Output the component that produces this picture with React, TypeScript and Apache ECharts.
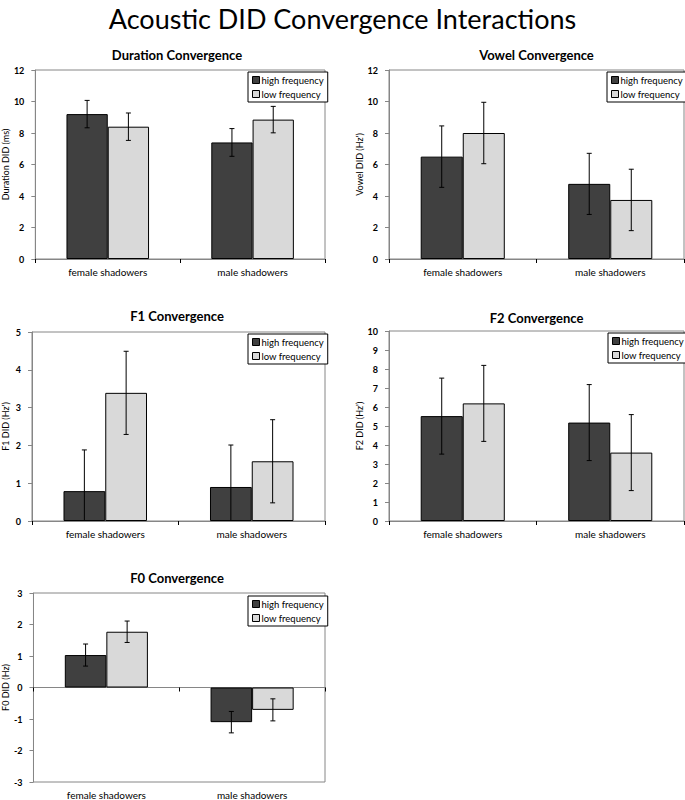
import React, { useEffect, useRef } from "react";
import * as echarts from "echarts";

const categories = ["female shadowers", "male shadowers"];
const seriesNames = ["high frequency", "low frequency"];

const durationHigh = [9.2, 7.4];
const durationLow = [8.4, 8.85];
const durationHighErr = [0.87, 0.88];
const durationLowErr = [0.87, 0.84];

const vowelHigh = [6.5, 4.77];
const vowelLow = [8.0, 3.75];
const vowelHighErr = [1.95, 1.94];
const vowelLowErr = [1.95, 1.95];

const f1High = [0.79, 0.9];
const f1Low = [3.39, 1.58];
const f1HighErr = [1.09, 1.11];
const f1LowErr = [1.1, 1.1];

const f2High = [5.52, 5.18];
const f2Low = [6.19, 3.6];
const f2HighErr = [2.0, 2.0];
const f2LowErr = [2.0, 2.0];

const f0High = [1.03, -1.1];
const f0Low = [1.77, -0.71];
const f0HighErr = [0.35, 0.34];
const f0LowErr = [0.34, 0.35];

const mainTitle = "Acoustic DID Convergence Interactions";

const panels = [
  { title: "Duration Convergence", yName: "Duration DID (ms)", min: 0, max: 12, interval: 2, high: durationHigh, low: durationLow, highErr: durationHighErr, lowErr: durationLowErr },
  { title: "Vowel Convergence", yName: "Vowel DID (Hz')", min: 0, max: 12, interval: 2, high: vowelHigh, low: vowelLow, highErr: vowelHighErr, lowErr: vowelLowErr },
  { title: "F1 Convergence", yName: "F1 DID (Hz')", min: 0, max: 5, interval: 1, high: f1High, low: f1Low, highErr: f1HighErr, lowErr: f1LowErr },
  { title: "F2 Convergence", yName: "F2 DID (Hz')", min: 0, max: 10, interval: 1, high: f2High, low: f2Low, highErr: f2HighErr, lowErr: f2LowErr },
  { title: "F0 Convergence", yName: "F0 DID (Hz)", min: -3, max: 3, interval: 1, high: f0High, low: f0Low, highErr: f0HighErr, lowErr: f0LowErr },
];

// layout (pixels)
const layouts = [
  { left: 29, top: 70, width: 296, height: 189, titleTop: 48, legendLeft: 248, legendTop: 72 },
  { left: 389, top: 70, width: 295, height: 189, titleTop: 48, legendLeft: 607, legendTop: 72 },
  { left: 29, top: 332, width: 296, height: 189, titleTop: 309, legendLeft: 248, legendTop: 334 },
  { left: 389, top: 331, width: 295, height: 190, titleTop: 311, legendLeft: 608, legendTop: 333 },
  { left: 29, top: 593, width: 296, height: 191, titleTop: 571, legendLeft: 248, legendTop: 596 },
];

const FONT = "Lato";
const DARK = "#404040";
const LIGHT = "#d9d9d9";
const AXIS = "#868686";
const CAT_GAP = 0.43;

function makeErrRender(side: number) {
  return (params: any, api: any) => {
    const idx = api.value(0);
    const v = api.value(1);
    const e = api.value(2);
    const c = api.coord([idx, v]);
    const band = api.size([1, 0])[0];
    const bw = (band * (1 - CAT_GAP)) / 2;
    const x = c[0] + (side * bw) / 2;
    const top = api.coord([idx, v + e])[1];
    const bot = api.coord([idx, v - e])[1];
    const cap = 2.5;
    const st = { stroke: "#000", lineWidth: 1 };
    return {
      type: "group",
      children: [
        { type: "line", shape: { x1: x, y1: top, x2: x, y2: bot }, style: st },
        { type: "line", shape: { x1: x - cap, y1: top, x2: x + cap, y2: top }, style: st },
        { type: "line", shape: { x1: x - cap, y1: bot, x2: x + cap, y2: bot }, style: st },
      ],
    };
  };
}

export default function App() {
  const ref = useRef<HTMLDivElement>(null);
  useEffect(() => {
    document.body.style.margin = "0";
    if (!ref.current) return;
    const chart = echarts.init(ref.current, null, { renderer: "svg" });

    const titles: any[] = [
      {
        text: mainTitle,
        left: "center",
        top: 0,
        textStyle: { fontFamily: FONT, fontSize: 27, fontWeight: "normal", color: "#000" },
      },
    ];
    const grids: any[] = [];
    const xAxes: any[] = [];
    const yAxes: any[] = [];
    const legends: any[] = [];
    const series: any[] = [];

    panels.forEach((p, i) => {
      const L = layouts[i];
      titles.push({
        text: p.title,
        left: L.left + L.width / 2,
        top: L.titleTop,
        textAlign: "center",
        padding: 0,
        textStyle: { fontFamily: FONT, fontSize: 13, fontWeight: "bold", color: "#000" },
      });
      grids.push({
        left: L.left,
        top: L.top,
        width: L.width,
        height: L.height,
        show: true,
        borderColor: AXIS,
        borderWidth: 1,
        backgroundColor: "transparent",
        containLabel: false,
      });
      // axis with line/ticks (on zero)
      xAxes.push({
        type: "category",
        gridIndex: i,
        data: categories,
        position: "bottom",
        axisLine: { show: true, onZero: true, lineStyle: { color: AXIS, width: 1 } },
        axisTick: { show: true, length: 4, inside: false, lineStyle: { color: "#000" } },
        axisLabel: { show: false },
        splitLine: { show: false },
      });
      // axis with labels at bottom
      xAxes.push({
        type: "category",
        gridIndex: i,
        data: categories,
        position: "bottom",
        axisLine: { show: false, onZero: false },
        axisTick: { show: false },
        axisLabel: { show: true, margin: 8, fontFamily: FONT, fontSize: 10, color: "#000" },
        splitLine: { show: false },
      });
      yAxes.push({
        type: "value",
        gridIndex: i,
        min: p.min,
        max: p.max,
        interval: p.interval,
        name: p.yName,
        nameLocation: "middle",
        nameGap: 22,
        nameRotate: 90,
        nameTextStyle: { fontFamily: FONT, fontSize: 9, color: "#000" },
        axisLine: { show: true, lineStyle: { color: AXIS, width: 1 } },
        axisTick: { show: true, length: 4, lineStyle: { color: AXIS } },
        axisLabel: { margin: 11, fontFamily: FONT, fontSize: 9, fontWeight: "bold", color: "#000" },
        splitLine: { show: false },
      });
      legends.push({
        data: seriesNames,
        orient: "vertical",
        left: L.legendLeft,
        top: L.legendTop,
        padding: [3, 4, 3, 4],
        itemGap: 4,
        itemWidth: 7,
        itemHeight: 7,
        icon: "rect",
        itemStyle: { borderColor: "#000", borderWidth: 1 },
        borderColor: "#000",
        borderWidth: 1,
        backgroundColor: "#fff",
        selectedMode: false,
        textStyle: { fontFamily: FONT, fontSize: 9.5, color: "#000", padding: [0, 0, 0, -3] },
      });
      const xIdx = i * 2;
      series.push({
        type: "bar",
        name: seriesNames[0],
        xAxisIndex: xIdx,
        yAxisIndex: i,
        data: p.high,
        barGap: "0%",
        barCategoryGap: CAT_GAP * 100 + "%",
        itemStyle: { color: DARK, borderColor: "#000", borderWidth: 1 },
        z: 2,
      });
      series.push({
        type: "bar",
        name: seriesNames[1],
        xAxisIndex: xIdx,
        yAxisIndex: i,
        data: p.low,
        barGap: "0%",
        barCategoryGap: CAT_GAP * 100 + "%",
        itemStyle: { color: LIGHT, borderColor: "#000", borderWidth: 1 },
        z: 2,
      });
      series.push({
        type: "custom",
        name: "err-high-" + i,
        xAxisIndex: xIdx,
        yAxisIndex: i,
        clip: true,
        renderItem: makeErrRender(-1),
        encode: { x: 0, y: 1 },
        data: p.high.map((v, k) => [k, v, p.highErr[k]]),
        z: 5,
      });
      series.push({
        type: "custom",
        name: "err-low-" + i,
        xAxisIndex: xIdx,
        yAxisIndex: i,
        clip: true,
        renderItem: makeErrRender(1),
        encode: { x: 0, y: 1 },
        data: p.low.map((v, k) => [k, v, p.lowErr[k]]),
        z: 5,
      });
    });

    chart.setOption({
      animation: false,
      backgroundColor: "#fff",
      textStyle: { fontFamily: FONT },
      title: titles,
      grid: grids,
      xAxis: xAxes,
      yAxis: yAxes,
      legend: legends,
      series,
    });
    return () => chart.dispose();
  }, []);
  return <div ref={ref} style={{ width: 685, height: 800 }} />;
}
